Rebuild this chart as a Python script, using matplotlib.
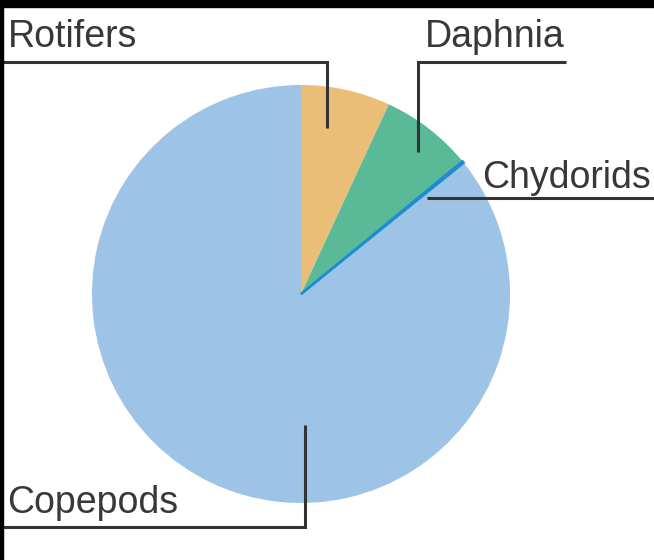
import matplotlib
matplotlib.use("Agg")
import matplotlib.pyplot as plt
from matplotlib.patches import Rectangle

# Share of each zooplankton group (percent)
groups = ["Rotifers", "Daphnia", "Chydorids", "Copepods"]
shares = [6.9, 7.15, 0.15, 85.8]
colors = ["#ebbe78", "#5ab996", "#1e8cd2", "#9dc3e6"]

W, H = 654, 560
fig = plt.figure(figsize=(W / 100, H / 100), dpi=100)
fig.patch.set_facecolor("white")
ax = fig.add_axes([0, 0, 1, 1])

# y axis runs downward, so counterclock=True draws clockwise on screen
wedges, _ = ax.pie(shares, colors=colors, startangle=-90, counterclock=True,
                   center=(301, 294), radius=209, frame=True)
for w, name in zip(wedges, groups):
    if name == "Chydorids":
        w.set_edgecolor(w.get_facecolor())
        w.set_linewidth(1.7)
        w.set_zorder(3)
    else:
        w.set_linewidth(0)
ax.set_xlim(0, W)
ax.set_ylim(H, 0)
ax.set_aspect("equal")
ax.axis("off")

line_kw = dict(color="#333333", lw=2.2, solid_capstyle="butt", solid_joinstyle="miter")
# leader lines
ax.plot([3, 327, 327], [62, 62, 128], **line_kw)
ax.plot([566, 418, 418], [62, 62, 152], **line_kw)
ax.plot([427, 654], [198, 198], **line_kw)
ax.plot([3, 305, 305], [527, 527, 425], **line_kw)

text_kw = dict(fontsize=27, family="Liberation Sans", color="#383838", va="baseline", ha="left")
ax.text(8, 47, "Rotifers", **text_kw)
ax.text(425, 47, "Daphnia", **text_kw)
ax.text(482, 188, "Chydorids", **text_kw)
ax.text(7, 513, "Copepods", **text_kw)

# dark frame strips along the top and left edges
fig.patches.append(Rectangle((0, 1 - 7 / H), 1, 7 / H, transform=fig.transFigure,
                             color="black", zorder=10))
fig.patches.append(Rectangle((0, 0), 3 / W, 1, transform=fig.transFigure,
                             color="black", zorder=10))

fig.savefig("out.png", dpi=100, facecolor="white")
